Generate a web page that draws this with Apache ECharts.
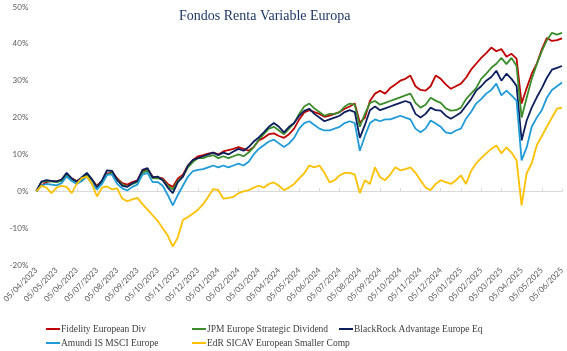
<!DOCTYPE html>
<html>
<head>
<meta charset="utf-8">
<script src="https://cdn.jsdelivr.net/npm/echarts@6/dist/echarts.min.js"></script>
<style>
  html, body { margin: 0; padding: 0; background: #fff; }
  #chart { width: 567px; height: 351px; }
</style>
</head>
<body>
<div id="chart"></div>
<script>
// monthly axis labels, 4 readings per month
var months = ['04/2023','05/2023','06/2023','07/2023','08/2023','09/2023','10/2023','11/2023','12/2023',
  '01/2024','02/2024','03/2024','04/2024','05/2024','06/2024','07/2024','08/2024','09/2024','10/2024',
  '11/2024','12/2024','01/2025','02/2025','03/2025','04/2025','05/2025','06/2025'];
var days = ['05', '12', '20', '27'];

var names = ['Fidelity European Div', 'JPM Europe Strategic Dividend', 'BlackRock Advantage Europe Eq',
  'Amundi IS MSCI Europe', 'EdR SICAV European Smaller Comp'];

// cumulative return, %
var fidelity = [0,1.5,2.5,2.8,2.6,3.0,4.5,3.5,2.8,3.5,4.6,3.2,1.5,2.8,4.8,5.2,3.5,2.2,1.8,2.5,
  3.0,5.5,6.0,4.0,3.8,3.5,2.0,1.2,3.5,4.5,7.0,8.5,9.5,9.8,10.2,10.5,10.0,10.8,11.2,11.5,
  12.0,11.5,11.0,12.0,13.8,14.5,15.5,15.7,15.0,14.5,15.5,17.0,19.5,21.4,22.0,21.5,21.0,20.2,20.5,21.0,
  21.5,22.4,23.0,23.8,18.6,20.0,24.5,26.5,27.3,26.5,28.0,29.0,30.0,30.5,31.4,28.5,27.5,27.3,28.5,31.4,
  30.5,29.0,27.8,28.5,29.2,30.8,33.0,34.6,36.2,37.5,39.0,38.0,38.6,36.5,37.3,36.0,23.8,28.0,31.9,34.6,
  38.5,41.6,40.8,41.0,41.5];
var jpm = [0,2.5,2.8,2.6,2.5,2.8,4.5,3.2,2.5,3.3,4.6,3.0,1.2,2.6,4.5,5.0,3.2,1.8,1.3,2.0,
  2.5,5.0,5.8,3.6,3.5,3.2,1.5,0.5,2.8,4.0,6.5,8.0,9.0,9.0,9.5,9.8,9.0,9.5,9.0,9.5,
  10.0,9.5,10.5,12.0,14.0,15.5,17.0,17.5,16.5,15.5,17.0,18.5,21.0,23.0,23.8,22.5,21.5,20.5,21.0,21.0,
  21.5,23.0,23.8,23.5,17.5,21.0,24.0,24.5,23.5,24.0,24.5,25.0,25.5,26.0,26.5,24.0,22.7,23.5,25.4,24.6,
  24.0,22.5,21.9,22.0,22.7,25.0,26.5,28.0,30.5,31.9,33.5,34.6,36.2,34.5,36.2,34.0,20.0,25.4,30.5,34.5,
  38.0,41.0,43.0,42.5,43.0];
var blackrock = [0,2.6,3.0,2.8,2.7,3.2,5.0,3.5,2.6,3.8,5.0,3.3,1.0,3.0,5.7,5.5,3.0,1.5,1.2,2.2,
  2.8,5.8,6.3,3.8,4.0,3.0,1.0,-0.5,2.5,4.0,7.0,8.5,9.0,9.5,10.0,10.5,9.8,10.5,10.0,10.8,
  11.5,11.0,12.0,13.5,14.6,16.0,17.5,18.5,17.5,16.0,17.5,18.5,20.5,21.8,22.4,21.0,20.0,19.0,19.5,20.0,
  20.5,21.5,22.0,21.5,14.5,18.0,22.0,23.0,22.0,22.5,23.0,23.5,24.0,24.5,24.0,21.0,20.0,21.0,22.7,22.0,
  21.9,20.5,19.7,20.5,21.4,23.2,25.0,27.3,28.5,30.0,31.0,32.7,30.0,31.9,30.5,28.6,13.8,19.2,22.7,25.5,
  28.0,30.8,33.0,33.5,34.0];
var amundi = [0,1.5,2.0,1.8,1.6,2.2,4.0,2.8,2.0,2.8,4.0,2.0,0.5,2.0,4.5,4.5,2.0,0.8,0.2,1.2,
  1.8,4.5,5.0,2.5,2.5,1.5,-1.0,-3.8,-1.0,1.5,4.0,5.5,5.8,6.0,6.5,7.0,6.5,7.0,6.5,7.0,
  7.5,7.0,8.0,10.0,11.5,12.5,13.5,14.0,13.0,12.0,13.0,14.5,17.0,18.5,19.0,18.0,17.0,16.5,16.5,17.0,
  17.5,18.5,19.0,18.5,11.0,15.0,18.5,19.5,19.0,19.5,19.5,20.0,20.5,20.0,19.5,17.0,16.0,17.0,19.2,18.4,
  17.5,16.0,15.7,16.5,17.0,19.7,21.5,23.8,25.0,26.5,27.5,29.2,26.0,27.3,26.0,24.6,8.4,11.9,17.5,20.0,
  22.0,25.4,27.5,28.5,29.5];
var edr = [0,1.5,1.0,-0.5,1.0,1.5,1.2,-0.5,2.0,3.6,4.0,2.0,-1.4,1.0,1.3,0.5,0.8,-2.0,-2.7,-2.2,
  -1.8,-3.5,-5.0,-6.5,-8.0,-10.0,-12.0,-15.0,-12.5,-7.8,-7.0,-6.0,-5.0,-3.5,-1.5,0.6,0.3,-2.0,-1.8,-1.5,
  -0.5,0.0,0.3,1.0,1.5,1.0,2.0,2.4,1.5,0.3,1.0,2.0,3.5,4.9,7.0,6.5,7.0,5.0,2.4,3.0,
  4.3,5.0,5.0,4.5,-0.5,3.0,2.0,6.5,3.8,3.0,4.5,6.5,5.7,6.0,6.5,5.0,3.0,1.0,0.3,2.0,
  3.0,2.5,2.0,3.0,4.3,2.0,5.5,7.6,9.0,10.3,11.5,12.4,10.3,11.9,10.5,8.4,-3.8,4.9,7.6,12.5,
  15.0,17.5,20.0,22.4,22.7];

var colors = ['#C00000', '#3B8C2A', '#0D1F5C', '#1F9BD7', '#FFC000'];

var dates = [];
months.forEach(function (m, i) {
  days.forEach(function (d) {
    if (i < months.length - 1 || d === '05') dates.push(d + '/' + m);
  });
});

var chart = echarts.init(document.getElementById('chart'), null, { renderer: 'canvas' });

var legendText = { fontFamily: 'Liberation Serif', fontSize: 9.5, color: '#404040', padding: [0, 0, 0, -4] };
function legendAt(left, top, name) {
  return {
    left: left, top: top, padding: 0,
    itemWidth: 14, itemHeight: 2, icon: 'rect',
    data: [name], textStyle: legendText
  };
}

var option = {
  animation: false,
  color: colors,
  title: {
    text: 'Fondos Renta Variable Europa',
    left: 174, top: 4,
    textStyle: { fontFamily: 'Liberation Serif', fontSize: 14, fontWeight: 'normal', color: '#1F3864' }
  },
  legend: [
    legendAt(46, 324, names[0]),
    legendAt(192, 324, names[1]),
    legendAt(339, 324, names[2]),
    legendAt(46, 338, names[3]),
    legendAt(192, 338, names[4])
  ],
  grid: { left: 35, right: 2, top: 7, bottom: 86 },
  xAxis: [
    {
      type: 'category', data: dates, boundaryGap: false,
      axisLine: { show: false, onZero: false },
      axisTick: { show: false },
      axisLabel: { interval: 3, rotate: 45, margin: 4, fontSize: 8, color: '#595959', fontFamily: 'Lato' }
    },
    {
      type: 'category', data: dates, boundaryGap: false,
      axisLine: { onZero: true, lineStyle: { color: '#D9D9D9', width: 1 } },
      axisTick: { interval: 3, length: 3, lineStyle: { color: '#D9D9D9' } },
      axisLabel: { show: false }
    }
  ],
  yAxis: {
    type: 'value', min: -20, max: 50, interval: 10,
    splitLine: { show: false },
    axisLine: { show: false }, axisTick: { show: false },
    axisLabel: { formatter: '{value}%', fontSize: 8, color: '#595959', fontFamily: 'Lato', margin: 8 }
  },
  series: [fidelity, jpm, blackrock, amundi, edr].map(function (vals, i) {
    return {
      name: names[i], type: 'line', data: vals, xAxisIndex: 0,
      showSymbol: false, symbol: 'none',
      lineStyle: { width: 1.8, color: colors[i] }
    };
  })
};

chart.setOption(option);
</script>
</body>
</html>
